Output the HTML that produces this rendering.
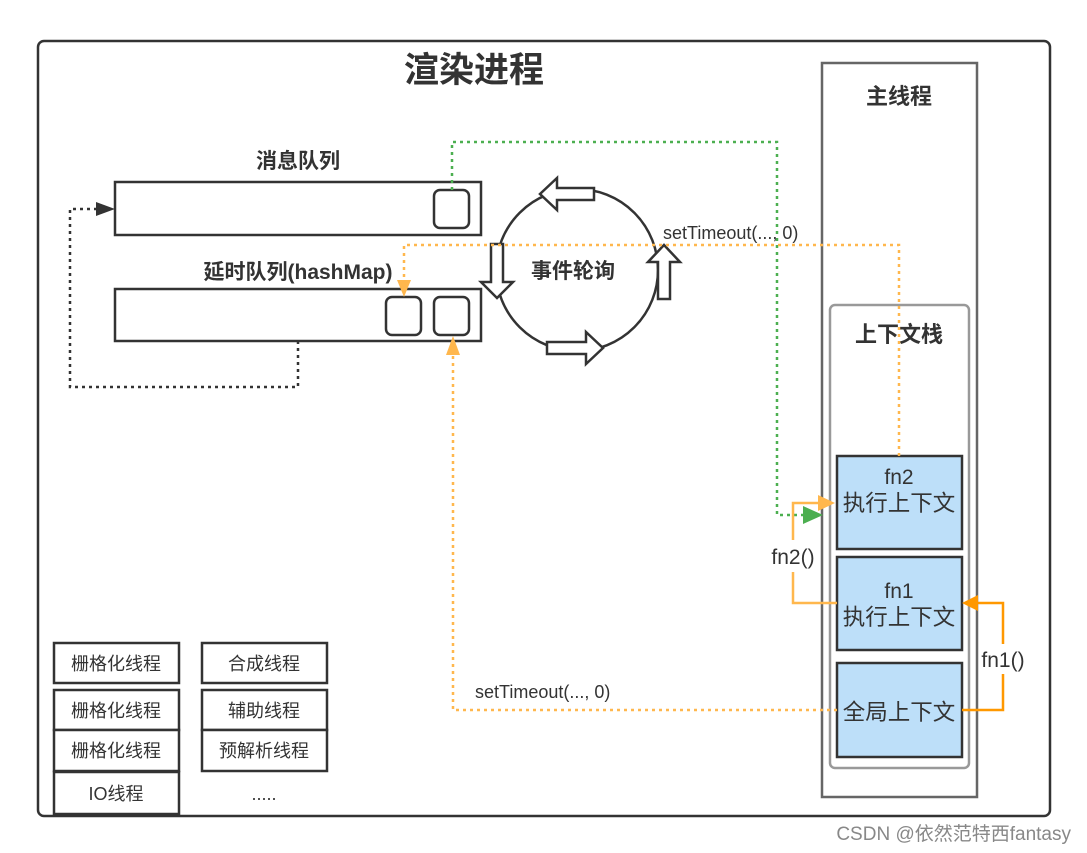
<!DOCTYPE html>
<html><head><meta charset="utf-8"><style>
html,body{margin:0;padding:0;background:#fff;}
svg{display:block;}
text{font-family:"Liberation Sans","Noto Sans CJK SC",sans-serif;fill:#333;}
</style></head><body>
<svg width="1087" height="853" viewBox="0 0 1087 853" xmlns="http://www.w3.org/2000/svg">
<rect x="0" y="0" width="1087" height="853" fill="#fff"/>
<rect x="38" y="41" width="1012" height="775" rx="6" fill="#fff" stroke="#333" stroke-width="2.5"/>
<text x="474" y="82" font-size="35" font-weight="bold" text-anchor="middle">渲染进程</text>

<!-- main thread -->
<rect x="822" y="63" width="155" height="734" fill="none" stroke="#666" stroke-width="2.5"/>
<text x="899" y="104" font-size="22" font-weight="bold" text-anchor="middle">主线程</text>
<rect x="830" y="305" width="139" height="463" rx="5" fill="none" stroke="#999" stroke-width="2.5"/>
<text x="899" y="342" font-size="22" font-weight="bold" text-anchor="middle">上下文栈</text>
<rect x="837" y="456" width="125" height="93" fill="#bddff9" stroke="#333" stroke-width="2.5"/>
<text x="899" y="484" font-size="21" text-anchor="middle">fn2</text>
<text x="899" y="511" font-size="22.5" text-anchor="middle">执行上下文</text>
<rect x="837" y="557" width="125" height="93" fill="#bddff9" stroke="#333" stroke-width="2.5"/>
<text x="899" y="598" font-size="21" text-anchor="middle">fn1</text>
<text x="899" y="625" font-size="22.5" text-anchor="middle">执行上下文</text>
<rect x="837" y="663" width="125" height="94" fill="#bddff9" stroke="#333" stroke-width="2.5"/>
<text x="899" y="720" font-size="22.5" text-anchor="middle">全局上下文</text>

<!-- queues -->
<text x="298" y="168" font-size="21" font-weight="bold" text-anchor="middle">消息队列</text>
<rect x="115" y="182" width="366" height="53" fill="#fff" stroke="#333" stroke-width="2.5"/>
<rect x="434" y="190" width="35" height="38" rx="6" fill="#fff" stroke="#333" stroke-width="2.5"/>
<text x="298" y="279" font-size="21" font-weight="bold" text-anchor="middle">延时队列(hashMap)</text>
<rect x="115" y="289" width="366" height="52" fill="#fff" stroke="#333" stroke-width="2.5"/>
<rect x="386" y="297" width="35" height="38" rx="6" fill="#fff" stroke="#333" stroke-width="2.5"/>
<rect x="434" y="297" width="35" height="38" rx="6" fill="#fff" stroke="#333" stroke-width="2.5"/>

<!-- black dotted loop -->
<path d="M298,341 V387 H70 V209 H104" fill="none" stroke="#333" stroke-width="2.5" stroke-dasharray="3,4"/>
<path d="M96,202 L115,209 L96,216 z" fill="#333"/>

<!-- event loop -->
<circle cx="577" cy="270" r="81" fill="#fff" stroke="#333" stroke-width="2.5"/>
<text x="573" y="278" font-size="21" font-weight="bold" text-anchor="middle">事件轮询</text>
<path d="M594,188 H557 V178 L540,194 L557,210 V200 H594 z" fill="#fff" stroke="#333" stroke-width="2.5"/>
<path d="M491,244 V282 H481 L497,298 L513,282 H503 V244 z" fill="#fff" stroke="#333" stroke-width="2.5"/>
<path d="M547,342 H586 V332 L603,348 L586,364 V354 H547 z" fill="#fff" stroke="#333" stroke-width="2.5"/>
<path d="M658,299 V262 H648 L664,245 L680,262 H670 V299 z" fill="#fff" stroke="#333" stroke-width="2.5"/>

<!-- green dotted -->
<path d="M452,190 V142 H777 V515 H805" fill="none" stroke="#4caf50" stroke-width="2.5" stroke-dasharray="3,4"/>
<path d="M803,506 L823,515 L803,524 z" fill="#4caf50"/>

<!-- orange dotted 1 -->
<path d="M899,456 V245 H404 V282" fill="none" stroke="#ffb74d" stroke-width="2.5" stroke-dasharray="3,4"/>
<path d="M397,280 L404,297 L411,280 z" fill="#ffb74d"/>
<text x="663" y="239" font-size="18">setTimeout(..., 0)</text>

<!-- orange dotted 2 -->
<path d="M837,710 H453 V352" fill="none" stroke="#ffb74d" stroke-width="2.5" stroke-dasharray="3,4"/>
<path d="M446,355 L453,336 L460,355 z" fill="#ffb74d"/>
<text x="475" y="698" font-size="18">setTimeout(..., 0)</text>

<!-- fn2() -->
<path d="M837,603 H793 V572 M793,540 V503 H820" fill="none" stroke="#ffb74d" stroke-width="2.5"/>
<path d="M818,495 L835,503 L818,511 z" fill="#ffb74d"/>
<text x="793" y="564" font-size="21" text-anchor="middle">fn2()</text>

<!-- fn1() -->
<path d="M962,710 H1003 V674 M1003,644 V603 H976" fill="none" stroke="#ff9800" stroke-width="2.5"/>
<path d="M978,595 L962,603 L978,611 z" fill="#ff9800"/>
<text x="1003" y="667" font-size="21" text-anchor="middle">fn1()</text>

<!-- threads -->
<g stroke="#333" stroke-width="2.5" fill="#fff">
<rect x="54" y="643" width="125" height="40"/>
<rect x="54" y="690" width="125" height="40"/>
<rect x="54" y="730" width="125" height="41"/>
<rect x="54" y="772" width="125" height="42"/>
<rect x="202" y="643" width="125" height="40"/>
<rect x="202" y="690" width="125" height="40"/>
<rect x="202" y="730" width="125" height="41"/>
</g>
<g font-size="18" text-anchor="middle">
<text x="116" y="670">栅格化线程</text>
<text x="116" y="717">栅格化线程</text>
<text x="116" y="757">栅格化线程</text>
<text x="116" y="800">IO线程</text>
<text x="264" y="670">合成线程</text>
<text x="264" y="717">辅助线程</text>
<text x="264" y="757">预解析线程</text>
<text x="264" y="800">.....</text>
</g>
<text x="1071" y="840" font-size="19" text-anchor="end" style="fill:#888">CSDN @依然范特西fantasy</text>
</svg>
</body></html>
